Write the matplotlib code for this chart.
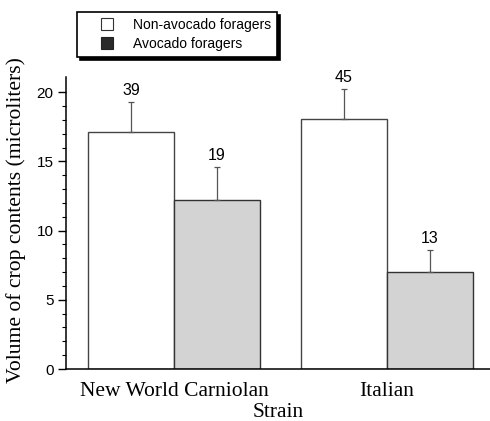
import numpy as np
import matplotlib
matplotlib.use('Agg')
import matplotlib.pyplot as plt
from matplotlib.lines import Line2D

# Données
souches = ['New World Carniolan', 'Italian']
non_avocat = [17.1, 18.1]
non_avocat_err = [2.2, 2.1]
avocat = [12.2, 7.0]
avocat_err = [2.4, 1.6]
n_non_avocat = [39, 45]
n_avocat = [19, 13]

fig = plt.figure(figsize=(4.9, 4.21), dpi=100)
ax = fig.add_axes([0.1347, 0.1235, 0.8653, 0.6935])

x = np.arange(len(souches))
w = 0.404

ax.bar(x - w / 2, non_avocat, w, color='white', edgecolor='#444444', linewidth=1.0,
       yerr=[[0, 0], non_avocat_err], error_kw=dict(ecolor='#555555', elinewidth=0.9, capsize=2, capthick=0.9))
ax.bar(x + w / 2, avocat, w, color='#d3d3d3', edgecolor='#333333', linewidth=1.0,
       yerr=[[0, 0], avocat_err], error_kw=dict(ecolor='#555555', elinewidth=0.9, capsize=2, capthick=0.9))

# Effectifs au-dessus des barres
for i in range(len(souches)):
    ax.annotate(str(n_non_avocat[i]), (x[i] - w / 2, non_avocat[i] + non_avocat_err[i]),
                xytext=(0, 3), textcoords='offset points', ha='center', va='bottom',
                fontsize=11.5, family='Liberation Sans')
    ax.annotate(str(n_avocat[i]), (x[i] + w / 2, avocat[i] + avocat_err[i]),
                xytext=(0, 3), textcoords='offset points', ha='center', va='bottom',
                fontsize=11.5, family='Liberation Sans')

ax.set_xlim(-0.507, 1.484)
ax.set_ylim(0, 21.1)
ax.set_yticks([0, 5, 10, 15, 20])
ax.set_yticks(np.arange(0, 21, 1), minor=True)
ax.tick_params(axis='y', which='major', length=6, width=1, direction='out', labelsize=11, pad=3)
ax.tick_params(axis='y', which='minor', length=3, width=0.8, direction='out')
for lab in ax.get_yticklabels():
    lab.set_family('Liberation Sans')

ax.set_xticks(x)
ax.set_xticklabels(souches, family='Liberation Serif', fontsize=15.5)
ax.tick_params(axis='x', length=0, pad=9.5)

ax.set_xlabel('Strain', family='Liberation Serif', fontsize=15.5)
ax.xaxis.set_label_coords(0.5, -0.118)
ylab = ax.set_ylabel('Volume of crop contents (microliters)', family='Liberation Serif', fontsize=14)
ax.yaxis.set_label_coords(-0.094, 0.51)

# ajuster la taille du titre de l'axe y à la longueur voulue (~328 px)
fig.canvas.draw()
h = ylab.get_window_extent().height
ylab.set_fontsize(14 * 328 / h)

ax.spines['top'].set_visible(False)
ax.spines['right'].set_visible(False)
ax.spines['left'].set_linewidth(1.1)
ax.spines['bottom'].set_linewidth(1.1)

poignees = [Line2D([], [], linestyle='none', marker='s', markersize=9, markerfacecolor='white',
                   markeredgecolor='#333333', markeredgewidth=0.8, label='Non-avocado foragers'),
            Line2D([], [], linestyle='none', marker='s', markersize=9, markerfacecolor='#2a2a2a',
                   markeredgecolor='#222222', markeredgewidth=0.8, label='Avocado foragers')]
leg = fig.legend(handles=poignees, loc='upper left', bbox_to_anchor=(77 / 490, 1 - 12 / 421),
                 frameon=True, fancybox=False, shadow={'color': 'black', 'alpha': 1},
                 prop={'family': 'Liberation Sans', 'size': 10}, handlelength=3.45,
                 borderpad=0.45, labelspacing=0.35, handletextpad=0.1, borderaxespad=0)
leg.get_frame().set_edgecolor('black')
leg.get_frame().set_linewidth(1.2)

fig.savefig('out.png', dpi=100)
